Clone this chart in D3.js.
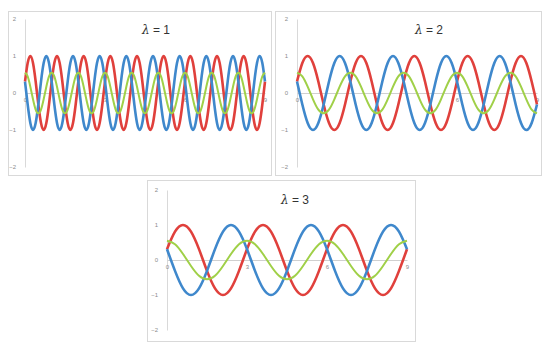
<!DOCTYPE html>
<html>
<head>
<meta charset="utf-8">
<script src="https://cdn.jsdelivr.net/npm/d3@7/dist/d3.min.js"></script>
<style>
body{margin:0;background:#fff;}
svg{display:block;}
</style>
</head>
<body>
<script>
var width=544;
var height=343;

// one wavelength of every curve (10 samples per wavelength)
var redWave=[0.31,0.81,1,0.81,0.31,-0.31,-0.81,-1,-0.81,-0.31];
var blueWave=[0.31,-0.31,-0.81,-1,-0.81,-0.31,0.31,0.81,1,0.81];
var greenWave=[0.55,0.45,0.17,-0.17,-0.45,-0.55,-0.45,-0.17,0.17,0.45];

var lambdas=[1,2,3];
var titleNums=['1','2','3'];
var yTicks=[2,1,0,-1,-2];
var xTicks=[0,3,6,9];
var xMax=9;
var samplesPerWave=10;

var svg=d3.select('body').append('svg')
  .attr('width',width)
  .attr('height',height);

svg.append('rect').attr('width',width).attr('height',height).attr('fill','#fff');

// frame + plot box of each panel
var panels=[
  {fx:8,fy:11,fw:263,fh:164,left:25,right:265,top:19,bottom:167,tx:156,ty:34},
  {fx:275,fy:11,fw:266,fh:164,left:297,right:537,top:19,bottom:167,tx:429,ty:34},
  {fx:147,fy:180,fw:268,fh:161,left:167,right:407,top:190,bottom:330,tx:295,ty:204}
];

var series=[
  {wave:redWave,color:'#e0403c',w:2.6},
  {wave:blueWave,color:'#3f88cc',w:2.6},
  {wave:greenWave,color:'#a0d048',w:2}
];

panels.forEach(function(p,k){
  var lam=lambdas[k];
  var g=svg.append('g');

  g.append('rect')
    .attr('x',p.fx+0.5).attr('y',p.fy+0.5)
    .attr('width',p.fw).attr('height',p.fh)
    .attr('fill','#fff')
    .attr('stroke','#d9d9d9');

  var x=d3.scaleLinear().domain([0,xMax]).range([p.left,p.right]);
  var y=d3.scaleLinear().domain([-2,2]).range([p.bottom,p.top]);

  // y axis
  var yAxis=d3.axisLeft(y).tickValues(yTicks).tickFormat(d3.format('d')).tickSize(0).tickPadding(9);
  var ya=g.append('g').attr('transform','translate('+p.left+',0)').call(yAxis);
  ya.select('.domain').attr('stroke','#d9d9d9');
  ya.selectAll('text').attr('fill','#8c8c8c').style('font-family','Liberation Sans').style('font-size','6px');

  // x axis at zero
  var xAxis=d3.axisBottom(x).tickValues(xTicks).tickFormat(d3.format('d')).tickSize(0).tickPadding(5);
  var xa=g.append('g').attr('transform','translate(0,'+y(0)+')').call(xAxis);
  xa.select('.domain').attr('stroke','#d0d0d0');
  xa.selectAll('text').attr('fill','#8c8c8c').style('font-family','Liberation Sans').style('font-size','6px');

  // curves: the read wavelength repeated along the axis
  var n=Math.round(xMax/lam*samplesPerWave);
  var idx=d3.range(n+1);
  series.forEach(function(s){
    var line=d3.line()
      .x(function(i){return x(i*lam/samplesPerWave);})
      .y(function(i){return y(s.wave[i%samplesPerWave]);})
      .curve(d3.curveNatural);
    g.append('path')
      .attr('d',line(idx))
      .attr('fill','none')
      .attr('stroke',s.color)
      .attr('stroke-width',s.w)
      .attr('stroke-linejoin','round');
  });

  var t=g.append('text')
    .attr('x',p.tx).attr('y',p.ty)
    .attr('text-anchor','middle')
    .attr('fill','#333')
    .style('font-size','12px');
  t.append('tspan').style('font-family','DejaVu Serif').style('font-style','italic').text('λ');
  t.append('tspan').style('font-family','Liberation Sans').text(' = '+titleNums[k]);
});
</script>
</body>
</html>
